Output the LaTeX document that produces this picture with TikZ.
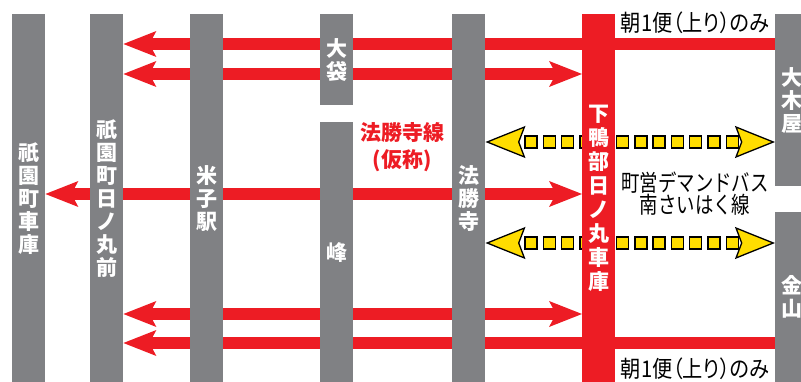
\documentclass[tikz,border=0pt]{standalone}
\usepackage{fontspec}
\newfontfamily\jp{Noto Sans CJK JP}
\newfontfamily\jpnarrow{Noto Sans CJK JP}[FakeStretch=0.8]
\newfontfamily\jpprop{Noto Sans CJK JP}[FakeStretch=0.88, RawFeature=+palt]
\usetikzlibrary{arrows.meta,backgrounds}

\definecolor{bargray}{HTML}{808184}
\definecolor{linered}{HTML}{ED1C24}
\definecolor{busyellow}{HTML}{FFDD00}

\tikzset{
  bar/.style={fill=bargray, text=white, anchor=north west, inner sep=0pt,
    minimum width=33, align=center, font=\jp\bfseries\fontsize{21}{23}\selectfont},
  route/.style={linered, line width=12pt},
  redtip/.tip={Stealth[length=33pt, width=26pt, inset=7pt, line width=0pt]},
  bustip/.tip={Stealth[length=40pt, width=32pt, inset=6pt, line width=1.3pt,
    color=black, fill=busyellow]},
  busline/.style={white, line width=0.1pt, bustip-bustip},
  busdot/.style={fill=busyellow, draw=black, line width=1.5pt},
  note/.style={inner sep=0pt, align=center, font=\jpnarrow\fontsize{23}{22}\selectfont},
  onlyfirst/.style={note, font=\jpprop\fontsize{23}{22}\selectfont},
  planned/.style={inner sep=0pt, align=center, text=linered,
    font=\jp\bfseries\fontsize{21}{27}\selectfont}
}

\begin{document}
\begin{tikzpicture}[x=1pt, y=-1pt]
  \useasboundingbox (0,0) rectangle (801,382);

  % stops
  \node[bar, minimum height=368] (gionshako) at (12,14) {祇\\園\\町\\車\\庫};
  \node[bar, minimum height=368] (hinomarumae) at (90,14) {祇\\園\\町\\日\\ノ\\丸\\前};
  \node[bar, minimum height=368] (yonago) at (190,14) {米\\子\\駅};
  \node[bar, minimum height=91] (ofukuro) at (320,14) {大\\袋};
  \node[bar, minimum height=260] (mine) at (320,122) {峰};
  \node[bar, minimum height=368] (hoshoji) at (452,14) {法\\勝\\寺};
  \node[bar, fill=linered, minimum height=368,
    font=\jp\bfseries\fontsize{21}{24}\selectfont] (garage) at (582,14)
    {下\\鴨\\部\\日\\ノ\\丸\\車\\庫};
  \node[bar, minimum height=172] (ookiya) at (775,14) {大\\木\\屋};
  \node[bar, minimum height=170] (kanayama) at (775,212) {金\\山};

  % labels
  \node[onlyfirst] (firstup) at (695,23) {朝1便（上り）のみ};
  \node[note] (demand) at (695,194) {町営デマンドバス\\南さいはく線};
  \node[onlyfirst] (firstdown) at (695,369) {朝1便（上り）のみ};
  \node[planned] (hoshojisen) at (402,147) {法勝寺線\\(仮称)};

  % routes
  \begin{pgfonlayer}{background}
    \draw[route, -redtip] (ookiya.west |- 0,44) -- (hinomarumae.east |- 0,44);
    \draw[route, redtip-redtip] (hinomarumae.east |- 0,74) -- (garage.west |- 0,74);
    \draw[route, redtip-redtip] (gionshako.east |- 0,194) -- (garage.west |- 0,194);
    \draw[route, redtip-redtip] (hinomarumae.east |- 0,314) -- (garage.west |- 0,314);
    \draw[route, -redtip] (kanayama.west |- 0,343) -- (hinomarumae.east |- 0,343);
    \foreach \y/\stop in {142/ookiya, 243/kanayama} {
      \draw[busline] (hoshoji.east |- 0,\y) -- (\stop.west |- 0,\y);
      \foreach \i in {0,...,11}
        \filldraw[busdot] ({525+18.3*\i},{\y-6}) rectangle ++(12,12);
    }
  \end{pgfonlayer}
\end{tikzpicture}
\end{document}
